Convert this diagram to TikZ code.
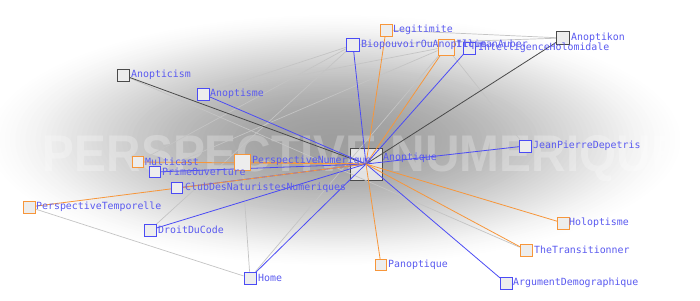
\documentclass[tikz,border=0pt]{standalone}
\usepackage{fontspec}
\newfontfamily\mono{DejaVu Sans Mono}
\newfontfamily\wm{Liberation Sans}
\pgfdeclarelayer{back}\pgfdeclarelayer{hubl}\pgfdeclarelayer{edges}
\pgfsetlayers{back,hubl,edges,main}
\definecolor{bl}{HTML}{4B4BF5}
\definecolor{txt}{HTML}{5A5AF0}
\definecolor{og}{HTML}{F7963A}
\definecolor{dg}{HTML}{4A4A4A}
\definecolor{lg}{HTML}{C4C4C4}
\definecolor{sqfill}{HTML}{EDEDED}
\tikzset{
  sq/.style={draw, line width=0.9pt, fill=sqfill, inner sep=0pt, minimum size=12pt},
  bsq/.style={sq, draw=bl},
  osq/.style={sq, draw=og},
  gsq/.style={sq, draw=dg},
  hubbox/.style={draw=dg, line width=1pt, fill=sqfill, fill opacity=0.85, inner sep=0pt, minimum size=32pt},
  lbl/.style={anchor=west, inner sep=0pt, text=txt, font=\mono\fontsize{9.9}{10}\selectfont},
  eb/.style={draw=bl, line width=0.8pt},
  eo/.style={draw=og, line width=0.8pt},
  ed/.style={draw=dg, line width=0.8pt},
  eg/.style={draw=lg, line width=0.7pt},
}
\begin{document}
\begin{tikzpicture}[x=1pt,y=-1pt]
\useasboundingbox (0,0) rectangle (700,300);
\begin{pgfonlayer}{back}
\clip (0,0) rectangle (700,300);
\fill[white] (0,0) rectangle (700,300);
\foreach \i in {0,...,69} {
  \pgfmathsetmacro\rr{1-\i/70}
  \pgfmathsetmacro\pp{38*(1-\rr*\rr)^1.6}
  \fill[black!\pp] (335,140) ellipse [x radius={355*\rr pt}, y radius={128*\rr pt}];
}
\node[text=white, opacity=0.26, font=\wm\bfseries, inner sep=0pt] (wm) at (363,159) {\resizebox{640pt}{36pt}{PERSPECTIVE NUMERIQUE}};
\end{pgfonlayer}
\begin{pgfonlayer}{hubl}
\node[hubbox] (hub) at (366,164) {};
\end{pgfonlayer}
% squares
\node[osq] (legit) at (386,30) {};
\node[bsq, minimum size=13pt] (bio) at (353,45) {};
\node[osq, minimum size=16pt] (illi) at (446,47) {};
\node[bsq] (intel) at (469,48) {};
\node[gsq, minimum size=13pt] (anoptikon) at (563,38) {};
\node[gsq] (anopticism) at (123,75) {};
\node[bsq] (anoptisme) at (203,94) {};
\node[bsq] (jpd) at (525,146) {};
\node[osq, minimum size=11pt] (multi) at (138,162) {};
\node[bsq, minimum size=11pt] (prime) at (155,172) {};
\node[osq, minimum size=16pt] (pnum) at (242,162) {};
\node[bsq, minimum size=11pt] (club) at (177,188) {};
\node[osq] (ptemp) at (29,207) {};
\node[bsq] (droit) at (150,230) {};
\node[bsq] (home) at (250,278) {};
\node[osq, minimum size=11pt] (pano) at (381,265) {};
\node[bsq] (argu) at (506,283) {};
\node[osq] (trans) at (526,250) {};
\node[osq] (holo) at (563,223) {};
% edges
\begin{pgfonlayer}{edges}
\draw[eg] (legit) -- (anoptikon);
\draw[eg] (bio) -- (anoptikon);
\draw[eg] (anopticism) -- (trans);
\draw[eg] (home) -- (illi);
\draw[eg] (home) -- (pnum);
\draw[eg] (ptemp) -- (home);
\draw[eg] (droit) -- (bio);
\draw[eg] (illi) -- (jpd);
\draw[eg] (multi) -- (bio);
\draw[eg] (anoptisme) -- (bio);
\draw[eg] (anoptisme) -- (illi);
\draw[eg] (prime) -- (illi);
\draw[eo] (legit.center) -- (hub.center);
\draw[eb] (bio.center) -- (hub.center);
\draw[eo] (illi.center) -- (hub.center);
\draw[eb] (intel.center) -- (hub.center);
\draw[ed] (anoptikon.center) -- (hub.center);
\draw[ed] (anopticism.center) -- (hub.center);
\draw[eb] (anoptisme.center) -- (hub.center);
\draw[eb] (jpd.center) -- (hub.center);
\draw[eo] (multi.center) -- (hub.center);
\draw[eb] (prime.center) -- (hub.center);
\draw[eo] (pnum.center) -- (hub.center);
\draw[eb] (club.center) -- (hub.center);
\draw[eo] (ptemp.center) -- (hub.center);
\draw[eb] (droit.center) -- (hub.center);
\draw[eb] (home.center) -- (hub.center);
\draw[eo] (pano.center) -- (hub.center);
\draw[eb] (argu.center) -- (hub.center);
\draw[eo] (trans.center) -- (hub.center);
\draw[eo] (holo.center) -- (hub.center);
\end{pgfonlayer}
% labels
\node[lbl] (lhub) at (383,158) {Anoptique};
\node[lbl] (llegit) at (393,30) {Legitimite};
\node[lbl] (lbio) at (361,45) {BiopouvoirOuAnoptique};
\node[lbl] (lilli) at (456,44) {IllimanAuber};
\node[lbl] (lintel) at (478,48) {IntelligenceHolomidale};
\node[lbl] (lanoptikon) at (571,38) {Anoptikon};
\node[lbl] (lanopticism) at (131,75) {Anopticism};
\node[lbl] (lanoptisme) at (210,94) {Anoptisme};
\node[lbl] (ljpd) at (533,146) {JeanPierreDepetris};
\node[lbl] (lmulti) at (145,162) {Multicast};
\node[lbl] (lprime) at (162,172) {PrimeOuverture};
\node[lbl] (lpnum) at (252,161) {PerspectiveNumerique};
\node[lbl] (lclub) at (185,188) {ClubDesNaturistesNumeriques};
\node[lbl] (lptemp) at (36,207) {PerspectiveTemporelle};
\node[lbl] (ldroit) at (158,230) {DroitDuCode};
\node[lbl] (lhome) at (258,278) {Home};
\node[lbl] (lpano) at (388,265) {Panoptique};
\node[lbl] (largu) at (513,283) {ArgumentDemographique};
\node[lbl] (ltrans) at (534,250) {TheTransitionner};
\node[lbl] (lholo) at (569,223) {Holoptisme};
\end{tikzpicture}
\end{document}
